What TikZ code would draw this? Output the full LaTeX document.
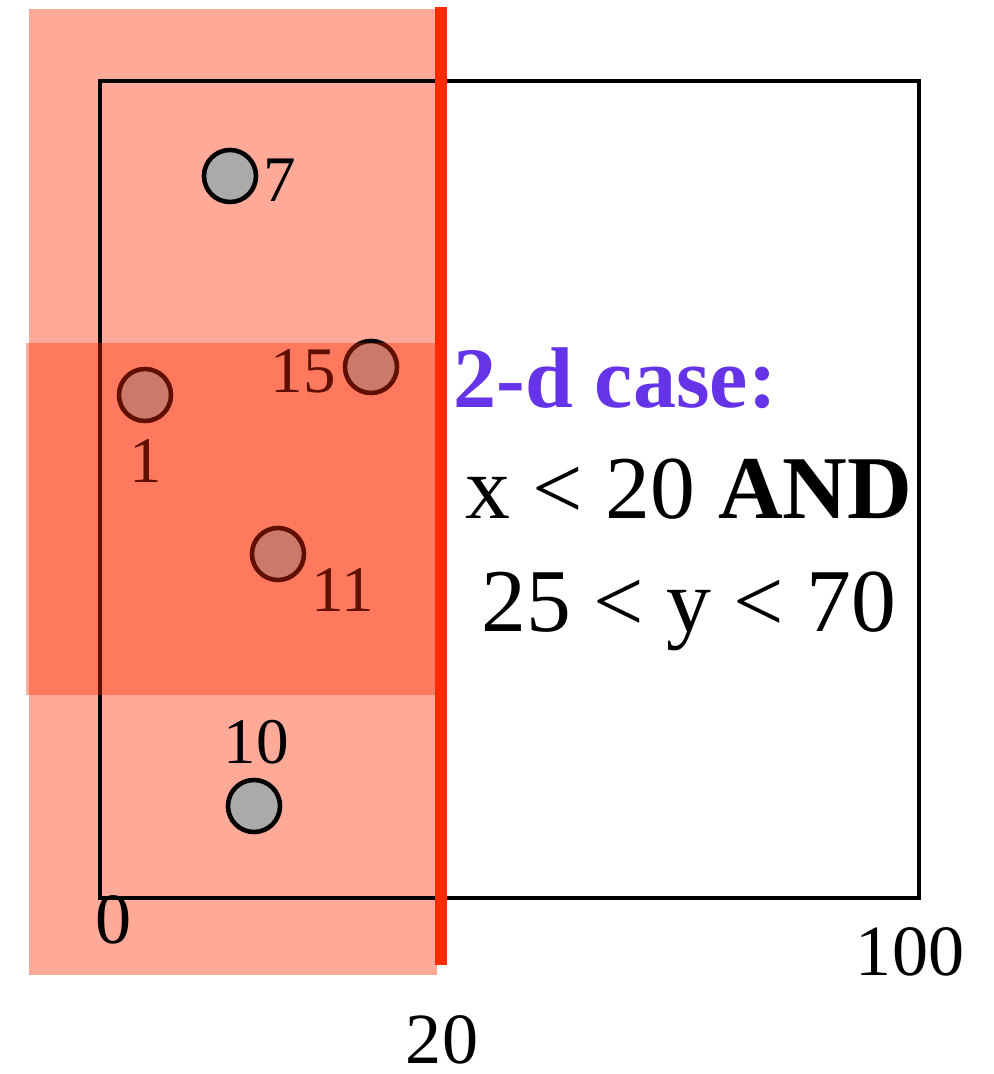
\documentclass[tikz,border=0pt]{standalone}
\usepackage{fontspec}
\setmainfont{Liberation Serif}
\usepackage{xcolor}
\usepackage{tikz}
\usetikzlibrary{positioning}
\definecolor{cutred}{HTML}{FF2A00}
\definecolor{casepurple}{HTML}{6534E8}
\definecolor{ptgray}{HTML}{AAAAAA}

\begin{document}
\begin{tikzpicture}[x=0.01cm, y=-0.01cm,
    pt/.style={circle, draw, line width=1.3pt, fill=ptgray, minimum size=0.52cm, inner sep=0pt},
    ptlabel/.style={anchor=base, inner sep=0pt, font=\fontsize{18.5}{22}\selectfont},
    axlabel/.style={anchor=base, inner sep=0pt, font=\fontsize{20.5}{24}\selectfont},
    cond/.style={anchor=base, inner sep=0pt, font=\fontsize{25.5}{30}\selectfont},
]
\useasboundingbox (0,0) rectangle (993,1074);

% Region x < 20
\fill[cutred!40!white] (29,9) rectangle (437,975);

% Domain box
\draw[line width=1.15pt] (100,81) rectangle (919,898);

% Data points
\foreach \n/\x/\y in {7/230/176, 1/145/395, 15/371/367, 11/278/554, 10/254/806} {
  \node[pt] (p\n) at (\x,\y) {};
}
\foreach \n/\x/\y in {7/280/202, 1/146/483, 15/303/393, 11/343/611, 10/256/763} {
  \node[ptlabel] (l\n) at (\x,\y) {\n};
}

% Band 25 < y < 70
\fill[cutred, opacity=.375] (26,343) rectangle (435,695);

% Cut at x = 20
\draw[cutred, line width=3.4pt] (441,7) -- (441,965);

% Axis values
\node[axlabel] (a0) at (114,943) {0};
\node[axlabel] (a100) at (910,975) {100};
\node[axlabel] (a20) at (442,1063) {20};

% Query text
\node[anchor=base west, inner sep=0pt, text=casepurple,
      font=\bfseries\fontsize{24.5}{29}\selectfont] (title) at (453,408) {2-d case:};
\node[cond] (cx) at (689,519) {x < 20 \textbf{AND}};
\node[cond] (cy) at (689,632) {25 < y < 70};

\end{tikzpicture}
\end{document}
